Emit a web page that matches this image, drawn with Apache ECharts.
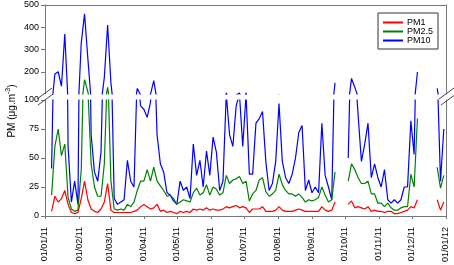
<!DOCTYPE html>
<html>
<head>
<meta charset="utf-8">
<script src="https://cdn.jsdelivr.net/npm/echarts@6/dist/echarts.min.js"></script>
<style>
  html, body { margin: 0; padding: 0; background: #fff; }
  #chart { width: 454px; height: 265px; }
</style>
</head>
<body>
<div id="chart"></div>
<script>
// one value every 3 days, starting 01/01/11
const stepDays = 3

const pm10 = [
  null, null, 41, 190, 200, 135, 370, 60, 12, 30,
  10, 330, 460, 260, 70, 38, 30, 55, 175, 410,
  150, 15, 10, 12, 14, 48, 30, 25, 125, 95,
  92, 85, 98, 160, 70, 45, 38, 20, 18, 13,
  10, 30, 22, 25, 15, 62, 35, 48, 25, 56,
  35, 68, 55, 22, 30, 105, 70, 60, 95, 105,
  60, 105, 36, 36, 80, 84, 90, 47, 22, 28,
  47, 97, 47, 33, 28, 36, 50, 72, 78, 22,
  31, 20, 25, 20, 80, 35, 25, 14, 150, null,
  null, null, 50, 170, 130, 87, 47, 62, 80, 33,
  45, 33, 25, 40, 14, 11, 14, 11, 14, 25,
  25, 82, 53, 199, null, null, null, null, null, 125,
  30, 75
]

const pm25 = [
  null, null, 18, 60, 75, 52, 62, 16, 6, 4,
  5, 40, 165, 110, 45, 25, 17, 17, 45, 130,
  30, 6, 5, 6, 5, 10, 8, 12, 22, 30,
  30, 40, 30, 42, 30, 26, 22, 17, 18, 15,
  10, 12, 14, 13, 12, 20, 24, 18, 20, 27,
  18, 25, 23, 18, 20, 35, 28, 31, 32, 34,
  28, 30, 13, 19, 22, 31, 33, 21, 17, 19,
  22, 36, 27, 22, 19, 19, 17, 19, 16, 12,
  14, 13, 14, 16, 25, 18, 12, 14, 38, null,
  null, null, 30, 45, 40, 33, 28, 28, 30, 19,
  19, 11, 11, 8, 11, 7, 5, 5, 7, 8,
  8, 36, 25, 84, null, null, null, null, null, 42,
  24, 35
]

const pm1 = [
  null, null, 4, 17, 12, 15, 22, 10, 3, 2,
  3, 15, 30, 14, 6, 4, 3, 6, 12, 28,
  5, 3, 3, 3, 3, 3, 3, 4, 5, 8,
  10, 8, 6, 7, 10, 4, 5, 3, 4, 3,
  2, 4, 3, 4, 3, 6, 5, 6, 5, 7,
  5, 6, 5, 5, 6, 8, 7, 8, 9, 7,
  8, 7, 3, 6, 6, 6, 8, 4, 4, 4,
  5, 8, 5, 4, 4, 4, 5, 6, 5, 4,
  4, 4, 4, 4, 8, 5, 4, 5, 12, null,
  null, null, 10, 13, 7, 8, 7, 6, 8, 4,
  5, 4, 4, 3, 4, 4, 2, 2, 3, 4,
  5, 8, 7, 14, null, null, null, null, null, 14,
  5, 12
]

const monthStarts = [0, 31, 59, 90, 120, 151, 181, 212, 243, 273, 304, 334, 365]
const tickLabels = ['01/01/11', '01/02/11', '01/03/11', '01/04/11', '01/05/11', '01/06/11',
  '01/07/11', '01/08/11', '01/09/11', '01/10/11', '01/11/11', '01/12/11', '01/01/12']
const upperTicks = [200, 300, 400, 500]

const toXY = (arr) => arr.map((v, i) => [i * stepDays, v])

const font = 'Liberation Sans, Arial, sans-serif'
const axisColor = '#777'

const myChart = echarts.init(document.getElementById('chart'), null, { width: 454, height: 265 })

const lines = [
  { name: 'PM10', data: pm10, color: '#0000ff' },
  { name: 'PM2.5', data: pm25, color: '#008000' },
  { name: 'PM1', data: pm1, color: '#ff0000' }
]

const series = []
lines.forEach((l, k) => {
  // same data in both panels, each clipped to its own grid
  ;[0, 1].forEach((g) => {
    series.push({
      name: l.name,
      type: 'line',
      xAxisIndex: g,
      yAxisIndex: g * 2,
      data: toXY(l.data),
      showSymbol: false,
      clip: true,
      z: 2 + k,
      lineStyle: { color: l.color, width: 1.2 },
      itemStyle: { color: l.color }
    })
  })
})

const sideAxis = (grid) => ({
  gridIndex: grid,
  type: 'value',
  position: 'right',
  min: grid === 0 ? 100 : 0,
  max: grid === 0 ? 500 : 100,
  axisLine: { show: true, lineStyle: { color: axisColor, width: 1 } },
  axisTick: { show: false },
  axisLabel: { show: false },
  splitLine: { show: false }
})

myChart.setOption({
  animation: false,
  textStyle: { fontFamily: font },
  grid: [
    { left: 45, right: 8, top: 5, height: 89 },
    { left: 45, right: 8, top: 100, bottom: 47 }
  ],
  xAxis: [
    {
      gridIndex: 0,
      type: 'value',
      min: 0,
      max: 365,
      position: 'top',
      axisLine: { show: true, onZero: false, lineStyle: { color: axisColor, width: 1 } },
      axisTick: { show: false },
      axisLabel: { show: false },
      splitLine: { show: false }
    },
    {
      gridIndex: 1,
      type: 'value',
      min: 0,
      max: 365,
      position: 'bottom',
      axisLine: { show: true, onZero: false, lineStyle: { color: axisColor, width: 1 } },
      axisTick: { show: true, length: 3, customValues: monthStarts, lineStyle: { color: axisColor } },
      axisLabel: {
        customValues: monthStarts,
        formatter: (v) => tickLabels[monthStarts.indexOf(v)],
        rotate: 90,
        margin: 11,
        fontSize: 9,
        color: '#000',
        fontFamily: font
      },
      splitLine: { show: false }
    }
  ],
  yAxis: [
    {
      gridIndex: 0,
      type: 'value',
      min: 100,
      max: 500,
      interval: 100,
      axisLine: { show: true, lineStyle: { color: axisColor, width: 1 } },
      axisTick: { show: true, length: 4, customValues: upperTicks, lineStyle: { color: axisColor } },
      axisLabel: { customValues: upperTicks, fontSize: 9, margin: 6, color: '#000', fontFamily: font },
      splitLine: { show: false }
    },
    sideAxis(0),
    {
      gridIndex: 1,
      type: 'value',
      min: 0,
      max: 100,
      interval: 25,
      axisLine: { show: true, lineStyle: { color: axisColor, width: 1 } },
      axisTick: { show: true, length: 4, lineStyle: { color: axisColor } },
      axisLabel: { fontSize: 9, margin: 6, color: '#000', fontFamily: font },
      splitLine: { show: false }
    },
    sideAxis(1)
  ],
  legend: {
    data: ['PM1', 'PM2.5', 'PM10'],
    orient: 'vertical',
    left: 378,
    top: 13,
    padding: [5, 5, 4, 5],
    itemGap: 0,
    itemWidth: 20,
    itemHeight: 2,
    icon: 'rect',
    borderColor: '#333',
    borderWidth: 1,
    backgroundColor: '#fff',
    textStyle: { fontSize: 9, color: '#000', fontFamily: font, padding: [0, 0, 0, -1] }
  },
  graphic: [
    // axis break marks
    { type: 'line', shape: { x1: 37, y1: 99, x2: 52, y2: 88 }, style: { stroke: '#444', lineWidth: 1 }, z: 100 },
    { type: 'line', shape: { x1: 38, y1: 105, x2: 53, y2: 94 }, style: { stroke: '#444', lineWidth: 1 }, z: 100 },
    { type: 'line', shape: { x1: 439, y1: 99, x2: 454, y2: 88 }, style: { stroke: '#444', lineWidth: 1 }, z: 100 },
    { type: 'line', shape: { x1: 441, y1: 105, x2: 454, y2: 95.5 }, style: { stroke: '#444', lineWidth: 1 }, z: 100 },
    {
      type: 'text',
      x: 11,
      y: 111,
      rotation: Math.PI / 2,
      style: {
        text: '{a|PM (μg.m}{s|-3}{a|)}',
        align: 'center',
        verticalAlign: 'middle',
        fill: '#000',
        rich: {
          a: { fontSize: 10, fontFamily: font, fill: '#000', lineHeight: 12, verticalAlign: 'bottom' },
          s: { fontSize: 7, fontFamily: font, fill: '#000', lineHeight: 12, verticalAlign: 'top' }
        }
      }
    }
  ],
  series: series
})
</script>
</body>
</html>
